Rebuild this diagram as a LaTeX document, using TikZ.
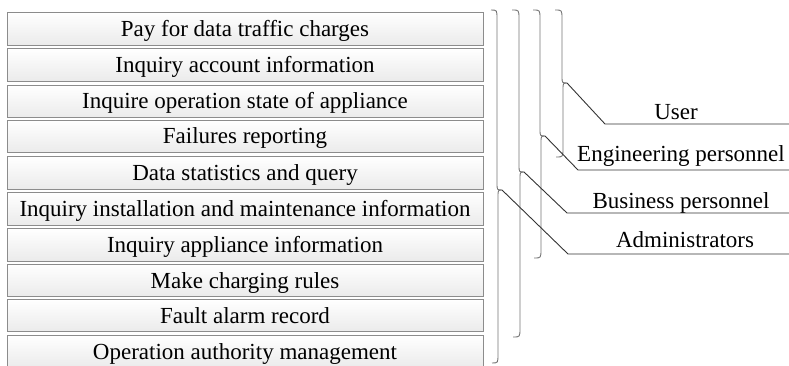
\documentclass[tikz,border=0pt]{standalone}
\usepackage{fontspec}
\setmainfont{Liberation Serif}
\usetikzlibrary{positioning}
\tikzset{
  itembox/.style={draw=black!45, line width=0.8pt, top color=white, bottom color=black!8,
    minimum width=476pt, minimum height=32.5pt, inner sep=0pt,
    text height=20pt, text depth=5pt,
    font=\fontsize{23}{27}\selectfont},
  rolelabel/.style={anchor=base, inner sep=0pt, font=\fontsize{23}{27}\selectfont},
  bracestyle/.style={draw=black!55, line width=0.9pt},
  conn/.style={draw=black!80, line width=0.9pt}
}
\newcommand{\rolebrace}[5]{% #1 x0, #2 x1, #3 top, #4 bottom, #5 tip y
  \draw[bracestyle] (#1,#3) .. controls (#2,#3) .. (#2,#3+9) -- (#2,#5-7)
     .. controls (#2,#5) .. (#2+5,#5);
  \draw[bracestyle] (#2+5,#5) .. controls (#2+1,#5) .. (#2+1,#5+7) -- (#2+1,#4-9)
     .. controls (#2+1,#4) .. (#1+1,#4);
}
\begin{document}
\begin{tikzpicture}[x=1pt,y=-1pt]
\useasboundingbox (0,0) rectangle (789,366);
% item boxes
\node[itembox] (b1)  at (245,29)    {Pay for data traffic charges};
\node[itembox] (b2)  at (245,65)    {Inquiry account information};
\node[itembox] (b3)  at (245,101.5) {Inquire operation state of appliance};
\node[itembox] (b4)  at (245,136.5) {Failures reporting};
\node[itembox] (b5)  at (245,173)   {Data statistics and query};
\node[itembox] (b6)  at (245,209)   {Inquiry installation and maintenance information};
\node[itembox] (b7)  at (245,245)   {Inquiry appliance information};
\node[itembox] (b8)  at (245,280.5) {Make charging rules};
\node[itembox] (b9)  at (245,315.5) {Fault alarm record};
\node[itembox] (b10) at (245,351.5) {Operation authority management};
% braces
\rolebrace{491}{497}{10}{363}{190}
\rolebrace{512}{519}{10}{337}{172}
\rolebrace{533}{540}{10}{258}{136}
\rolebrace{555}{562}{10}{157}{83}
% brace tips and connector points
\coordinate (tA) at (502,190);
\coordinate (tB) at (524,172);
\coordinate (tE) at (545,136);
\coordinate (tU) at (567,83);
\coordinate (kA) at (568,254);
\coordinate (kB) at (567,213);
\coordinate (kE) at (578,170);
\coordinate (kU) at (605,124);
\coordinate (eA) at (789,254);
\coordinate (eB) at (789,213);
\coordinate (eE) at (789,170);
\coordinate (eU) at (789,124);
\draw[conn] (tA) -- (kA) -- (eA);
\draw[conn] (tB) -- (kB) -- (eB);
\draw[conn] (tE) -- (kE) -- (eE);
\draw[conn] (tU) -- (kU) -- (eU);
% labels
\node[rolelabel] (lU) at (676,120) {User};
\node[rolelabel] (lE) at (681,162) {Engineering personnel};
\node[rolelabel] (lB) at (681,208) {Business personnel};
\node[rolelabel] (lA) at (685,247) {Administrators};
\end{tikzpicture}
\end{document}
